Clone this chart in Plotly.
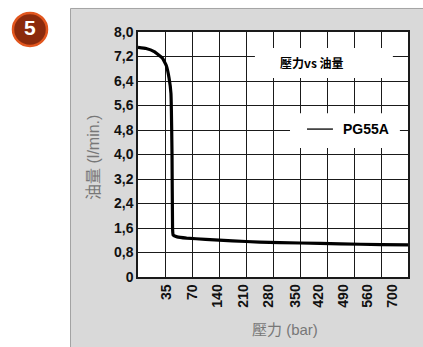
import plotly.graph_objects as go

# pressure tick labels (bar) and flow tick labels (l/min.)
pressure_labels = ["35", "70", "140", "210", "280", "350", "420", "490", "560", "700"]
flow_ticks = [0, 0.8, 1.6, 2.4, 3.2, 4.0, 4.8, 5.6, 6.4, 7.2, 8.0]
flow_labels = ["0", "0,8", "1,6", "2,4", "3,2", "4,0", "4,8", "5,6", "6,4", "7,2", "8,0"]

# PG55A curve, x read as position along the grid (0 = left axis, 10 = right edge)
curve_x = [0, 0.3, 0.6, 0.9, 1.05, 1.15, 1.22, 1.26, 1.28, 1.3, 1.45, 1.8, 2.5, 3.5, 4.5, 6, 7.5, 9, 10]
curve_y = [7.5, 7.46, 7.36, 7.15, 6.9, 6.5, 6.0, 4.0, 1.6, 1.37, 1.31, 1.27, 1.23, 1.18, 1.14, 1.11, 1.08, 1.06, 1.05]

# where the rotated pressure labels sit in the original
label_pos = [1.07, 2.0, 2.93, 3.89, 4.85, 5.85, 6.67, 7.6, 8.48, 9.44]

tick_font = dict(family="Liberation Sans Narrow, Arial Narrow, Liberation Sans, Arial", size=14, color="#111111", weight="bold")
cjk = "Liberation Sans, Arial, Noto Sans CJK TC"

fig = go.Figure()
fig.add_trace(go.Scatter(x=curve_x, y=curve_y, mode="lines",
                         line=dict(color="black", width=3.2, shape="spline", smoothing=0.3),
                         showlegend=False, hoverinfo="skip"))

fig.update_xaxes(range=[0, 10], tickmode="array", tickvals=label_pos, ticktext=pressure_labels, tickangle=-90,
                 showgrid=False, zeroline=False, ticks="", tickfont=tick_font,
                 showline=True, linecolor="#1a1a1a", linewidth=1.5, mirror=True,
                 minor=dict(tickmode="linear", tick0=0, dtick=1, showgrid=True,
                            gridcolor="#1a1a1a", gridwidth=1.3, ticks=""))
fig.update_yaxes(range=[0, 8], tickvals=flow_ticks, ticktext=flow_labels,
                 showgrid=True, gridcolor="#1a1a1a", gridwidth=1.3, zeroline=False, ticks="",
                 tickfont=tick_font, showline=True, linecolor="#1a1a1a", linewidth=1.5, mirror=True)

shapes = [
    # grey panel and white plot area
    dict(type="rect", xref="paper", yref="paper", x0=-0.25, x1=1.2, y0=-0.4, y1=1.096,
         fillcolor="#d9d9d9", line=dict(color="#a3a3a3", width=1), layer="below"),
    dict(type="rect", xref="paper", yref="paper", x0=0, x1=1, y0=0, y1=1,
         fillcolor="white", line=dict(width=0), layer="below"),
    # white boxes behind legend texts
    dict(type="rect", xref="x", yref="y", x0=4.33, x1=9.44, y0=6.5, y1=7.48,
         fillcolor="white", line=dict(width=0), layer="above"),
    dict(type="rect", xref="x", yref="y", x0=5.63, x1=9.7, y0=4.21, y1=5.35,
         fillcolor="white", line=dict(width=0), layer="above"),
    dict(type="line", xref="x", yref="y", x0=6.26, x1=7.22, y0=4.83, y1=4.83,
         line=dict(color="black", width=1.3)),
    # badge
    dict(type="circle", xref="paper", yref="paper", x0=-0.4630, x1=-0.3370, y0=0.943, y1=1.078,
         fillcolor="#8b2a0c", line=dict(color="#e2561e", width=2.5)),
]

mid = dict(xanchor="center", yanchor="middle", showarrow=False)
annotations = [
    dict(x=6.44, y=6.99, xref="x", yref="y", text="<b>壓力</b><b>vs 油量</b>",
         font=dict(family="Liberation Sans Narrow, Noto Sans CJK TC", size=12, color="black"), **mid),
    dict(x=8.44, y=4.83, xref="x", yref="y", text="<b>PG55A</b>",
         font=dict(family="Liberation Sans Narrow, Arial Narrow, Liberation Sans", size=14, color="black"), **mid),
    dict(x=-0.4, y=1.02, xref="paper", yref="paper", text="<b>5</b>",
         font=dict(family="Liberation Sans Narrow, Liberation Sans", size=21, color="white"), **mid),
    dict(x=-0.163, y=0.49, xref="paper", yref="paper", text="油量 (l/min.)", textangle=-90,
         font=dict(family=cjk, size=16, color="#777777"), **mid),
    dict(x=0.544, y=-0.216, xref="paper", yref="paper", text="壓力 (bar)",
         font=dict(family=cjk, size=15, color="#777777"), **mid),
]

fig.update_layout(width=423, height=347, margin=dict(l=138, r=15, t=32, b=70),
                  paper_bgcolor="white", plot_bgcolor="rgba(0,0,0,0)",
                  shapes=shapes, annotations=annotations, showlegend=False)

# page body has a default 8px margin; drop it so the figure sits at the window corner
fig.write_html("out.html", config={"displayModeBar": False},
               post_script="document.body.style.margin='0px';")
